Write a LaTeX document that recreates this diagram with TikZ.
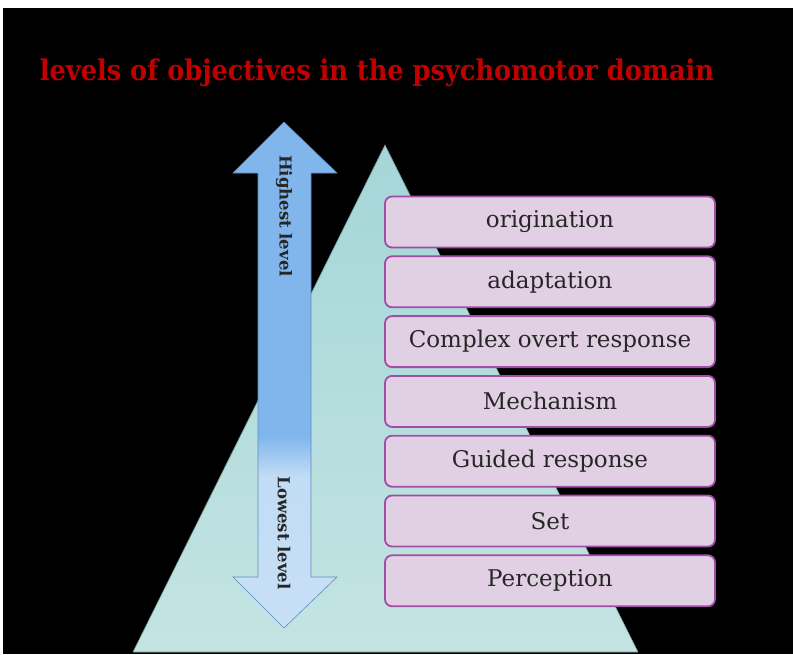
\documentclass[tikz,border=0pt]{standalone}
\usepackage{fontspec}
\setmainfont{DejaVu Serif}
\newfontfamily\titlefont{DejaVu Serif Condensed}
\usepackage{tikz}
\usetikzlibrary{positioning}

\begin{document}
\begin{tikzpicture}[x=1pt, y=-1pt, font=\fontsize{23}{27}\selectfont, line width=0.6pt,
    levelbox/.style={draw=boxborder, fill=boxfill, line width=1.8pt,
        rounded corners=7pt, minimum width=330pt, minimum height=51pt, text=black!85},
    arrowtext/.style={rotate=-90, font=\bfseries\fontsize{16.5}{19}\selectfont, text=black!85}]
        % Define colors
        \definecolor{titlered}{RGB}{192,0,0}
        \definecolor{boxfill}{RGB}{225,207,228}
        \definecolor{boxborder}{RGB}{160,78,166}
        \definecolor{arrowblue}{RGB}{128,182,236}
        \definecolor{arrowlight}{RGB}{200,224,246}
        \definecolor{arrowedge}{RGB}{92,140,190}
        \definecolor{tritop}{RGB}{164,214,216}
        \definecolor{tribottom}{RGB}{196,228,226}
        \pgfdeclareverticalshading{levelshade}{100bp}{color(0bp)=(arrowlight); color(25bp)=(arrowlight);
            color(40bp)=(arrowlight!90!arrowblue); color(44bp)=(arrowblue); color(100bp)=(arrowblue)}

        % Background
        \fill[white] (0,0) rectangle (793,654);
        \fill[black] (3,8) rectangle (793,654);

        % Title
        \node[font=\titlefont\bfseries\fontsize{28.5}{33}\selectfont, text=titlered] (title) at (377,73)
            {levels of objectives in the psychomotor domain};

        % Triangle
        \coordinate (apex) at (385,145);
        \coordinate (baseL) at (133,652);
        \coordinate (baseR) at (638,652);
        \shade[top color=tritop, bottom color=tribottom, draw=tritop!70!black] (apex) -- (baseL) -- (baseR) -- cycle;

        % Arrow
        \shade[shading=levelshade, draw=arrowedge] (284,122) -- (337,173) -- (311,173) -- (311,577) -- (337,577)
            -- (284,628) -- (233,577) -- (258,577) -- (258,173) -- (233,173) -- cycle;
        \node[arrowtext] (high) at (284,216) {Highest level};
        \node[arrowtext] (low) at (284,533) {Lowest level};

        % Levels
        \node[levelbox] (origination) at (550,222) {origination};
        \node[levelbox, below=7pt of origination] (adaptation) {adaptation};
        \node[levelbox, below=7pt of adaptation] (complex) {Complex overt response};
        \node[levelbox, below=7pt of complex] (mechanism) {Mechanism};
        \node[levelbox, below=7pt of mechanism] (guided) {Guided response};
        \node[levelbox, below=7pt of guided] (set) {Set};
        \node[levelbox, below=7pt of set] (perception) {Perception};
\end{tikzpicture}
\end{document}
